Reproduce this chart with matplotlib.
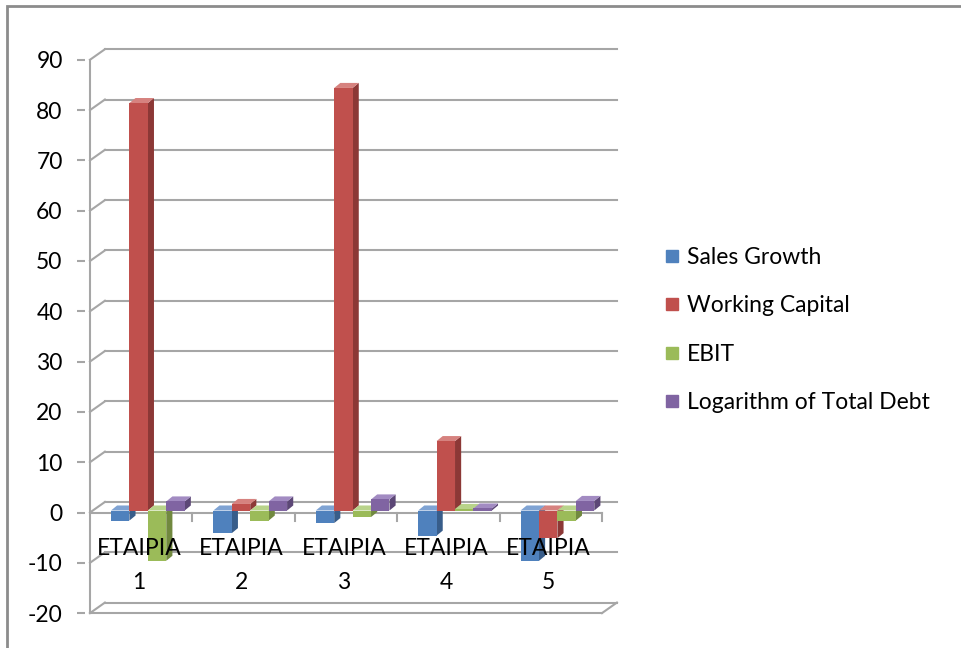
import matplotlib.pyplot as plt
from matplotlib.patches import Polygon, Rectangle
from matplotlib.lines import Line2D

# data
firms = ['ETAIPIA\n1', 'ETAIPIA\n2', 'ETAIPIA\n3', 'ETAIPIA\n4', 'ETAIPIA\n5']
series = ['Sales Growth', 'Working Capital', 'EBIT', 'Logarithm of Total Debt']
sales_growth = [-2, -4.5, -2.5, -5, -10]
working_capital = [81, 1.3, 84, 13.8, -5.5]
ebit = [-10, -2, -1.3, 0.3, -2]
log_debt = [1.8, 1.8, 2.2, 0.4, 1.9]
yticks = list(range(-20, 100, 10))

values = [sales_growth, working_capital, ebit, log_debt]
front = ['#4F81BD', '#C0504D', '#9BBB59', '#8064A2']
side = ['#385D8A', '#8C3836', '#71893F', '#5C4776']
top = ['#7FA3D3', '#D6827F', '#B8D38A', '#A28BC2']

plt.rcParams['font.family'] = ['Lato', 'DejaVu Sans']
plt.rcParams['axes.unicode_minus'] = False

fig = plt.figure(figsize=(9.61, 6.48), dpi=100)
ax = fig.add_axes([0.0883, 0.0383, 0.5594, 0.9005])
ax.set_xlim(-0.55, 4.7)
ax.set_ylim(-22, 94)

grid = '#A6A6A6'
DX, DY = 0.146, 2.1      # depth of the walls
x0, x1 = -0.5, 4.5
ymin, ymax = -20, 90

# back wall gridlines + left diagonals
for v in yticks:
    ax.plot([x0 + DX, x1 + DX], [v + DY, v + DY], color=grid, lw=1.5, zorder=1)
    ax.plot([x0, x0 + DX], [v, v + DY], color=grid, lw=1.5, zorder=1)
# left front axis
ax.plot([x0, x0], [ymin, ymax], color=grid, lw=1.5, zorder=1)
# floor
ax.plot([x0, x1], [ymin, ymin], color=grid, lw=1.5, zorder=1)
ax.plot([x1, x1 + DX], [ymin, ymin + DY], color=grid, lw=1.5, zorder=1)
# front zero line with category ticks
ax.plot([x0, x1], [0, 0], color=grid, lw=1.5, zorder=1)
for k in range(1, 6):
    ax.plot([x0 + k, x0 + k], [0, -1.6], color=grid, lw=1.5, zorder=1)

# pseudo 3d bars
w = 0.18
bdx, bdy = 0.06, 1.0
zx, zy = 0.03, 0.4
for j, vals in enumerate(values):
    for i, v in enumerate(vals):
        l = i - 0.325 + j * w + zx
        r = l + w
        t = max(v, 0) + zy
        b = min(v, 0) + zy
        z = 3 + j * 0.1
        ax.add_patch(Polygon([(r, b), (r, t), (r + bdx, t + bdy), (r + bdx, b + bdy)],
                             closed=True, fc=side[j], ec='none', zorder=z))
        ax.add_patch(Polygon([(l, t), (r, t), (r + bdx, t + bdy), (l + bdx, t + bdy)],
                             closed=True, fc=top[j], ec='none', zorder=z))
        ax.bar(l, v, width=w, bottom=zy, align='edge', color=front[j], zorder=z + 0.05)

# category labels
for i, name in enumerate(firms):
    a, n = name.split('\n')
    ax.text(i - 0.02, -7.2, a, ha='center', va='center', fontsize=16.5, zorder=10)
    ax.text(i - 0.02, -13.9, n, ha='center', va='center', fontsize=16.5, zorder=10)

ax.set_yticks(yticks)
ax.set_xticks([])
ax.tick_params(axis='y', length=6, width=1.5, color=grid, pad=10, labelsize=16.5)
for s in ax.spines.values():
    s.set_visible(False)

handles = [Line2D([], [], ls='none', marker='s', markersize=9, color=c) for c in front]
fig.legend(handles, series, loc='center left', bbox_to_anchor=(0.679, 0.491),
           frameon=False, fontsize=16.5, handlelength=0.7, handletextpad=0.3,
           labelspacing=1.2, borderpad=0)

# chart border (cropped at right and bottom)
fig.patches.append(Rectangle((7 / 961, -0.1), 1.2, 1.1 - 6 / 648,
                             transform=fig.transFigure, fill=False,
                             ec='#8C8C8C', lw=2))

fig.savefig('out.png', dpi=100)
